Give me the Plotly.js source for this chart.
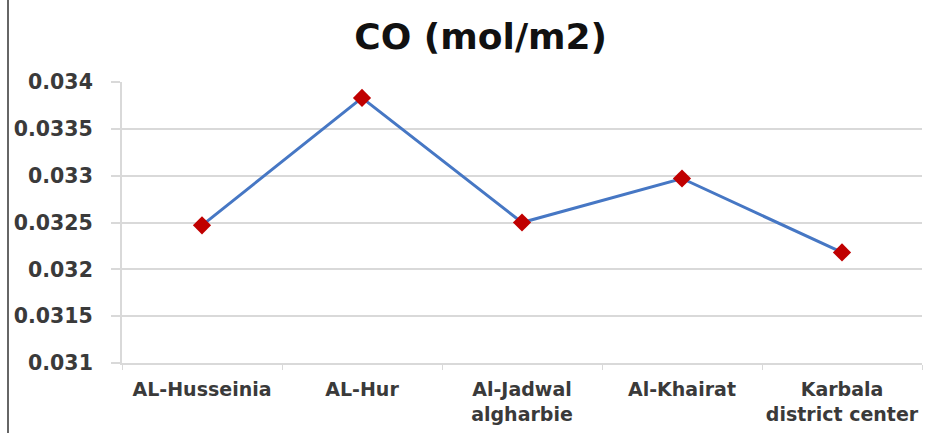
<!DOCTYPE html>
<html>
<head>
<meta charset="utf-8">
<script src="https://cdn.plot.ly/plotly-3.0.1.min.js"></script>
<style>html,body{margin:0;padding:0;background:#fff;}#chart{width:928px;height:433px;}</style>
</head>
<body>
<div id="chart"></div>
<script>
const categories = ["AL-Husseinia", "AL-Hur", "Al-Jadwal<br>algharbie", "Al-Khairat", "Karbala<br>district center"];
const coValues = [0.03247, 0.03383, 0.03250, 0.03297, 0.03218];
const yTicks = [0.031, 0.0315, 0.032, 0.0325, 0.033, 0.0335, 0.034];
const yTickLabels = ["0.031", "0.0315", "0.032", "0.0325", "0.033", "0.0335", "0.034"];
const chartTitle = "CO (mol/m2)";

const trace = {
  x: categories,
  y: coValues,
  type: "scatter",
  mode: "lines+markers",
  line: {color: "#4677c4", width: 3},
  marker: {symbol: "diamond", color: "#c00000", size: 14, line: {width: 0}},
  cliponaxis: false,
  hoverinfo: "x+y"
};

const layout = {
  width: 928, height: 433,
  margin: {l: 122, r: 6, t: 82, b: 70},
  paper_bgcolor: "#fff", plot_bgcolor: "#fff",
  showlegend: false,
  title: {text: chartTitle, x: 0.518, xanchor: "center", y: 0.915, yanchor: "middle",
          font: {family: "DejaVu Sans, sans-serif", size: 36, color: "#111", weight: "bold"}},
  xaxis: {
    type: "category",
    range: [-0.5, 4.5],
    showgrid: false,
    showline: true, linecolor: "#d9d9d9", linewidth: 2,
    ticks: "outside", tickson: "boundaries", ticklen: 5, tickcolor: "#d9d9d9", tickwidth: 1,
    tickangle: 0,
    tickfont: {family: "DejaVu Sans, sans-serif", size: 19, color: "#3a3a3a", weight: "bold"},
    ticklabelstandoff: 8,
    zeroline: false
  },
  yaxis: {
    range: [0.031, 0.034],
    tickvals: yTicks, ticktext: yTickLabels,
    showgrid: true, gridcolor: "#d9d9d9", gridwidth: 2,
    showline: true, linecolor: "#d9d9d9", linewidth: 2,
    ticks: "outside", ticklen: 9, tickcolor: "#d9d9d9", tickwidth: 2,
    tickfont: {family: "DejaVu Sans, sans-serif", size: 20.5, color: "#3a3a3a", weight: "bold"},
    ticklabelstandoff: 14,
    zeroline: false
  },
  shapes: [{
    type: "line", xref: "paper", yref: "paper",
    x0: -0.1425, x1: -0.1425, y0: -0.26, y1: 1.3,
    line: {color: "#666", width: 2}
  }]
};

Plotly.newPlot("chart", [trace], layout, {displayModeBar: false, staticPlot: true});
</script>
</body>
</html>
